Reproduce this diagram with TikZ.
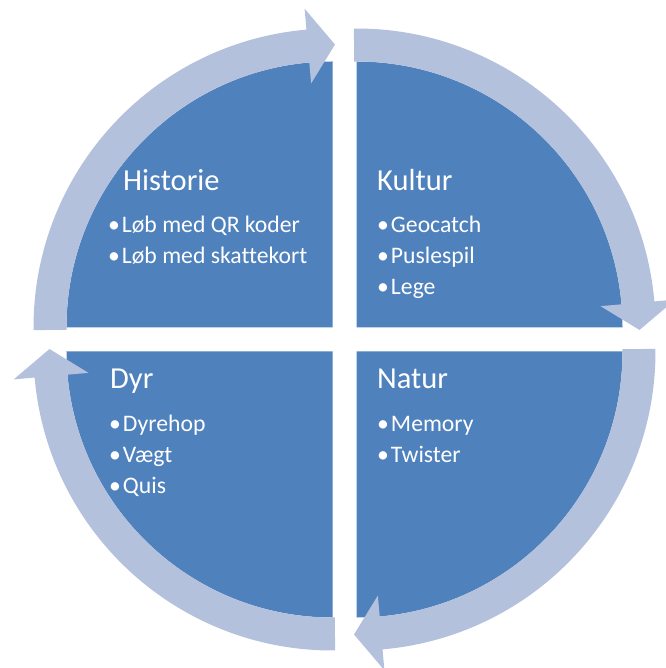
\documentclass[tikz,border=0pt]{standalone}
\usepackage{fontspec}
\setmainfont{Carlito}[Ligatures=NoCommon]
\usetikzlibrary{positioning}
\definecolor{quadblue}{RGB}{79,129,189}
\definecolor{ringblue}{RGB}{179,193,221}
\tikzset{
  sector/.style={fill=quadblue},
  ringarrow/.style={fill=ringblue},
  title/.style={text=white,font=\fontsize{30.5}{36}\selectfont,anchor=base west,inner sep=0pt},
  item/.style={text=white,font=\fontsize{23.7}{28}\selectfont,anchor=base west,inner sep=0pt},
}
\begin{document}
\begin{tikzpicture}[x=1pt,y=1pt]
  \useasboundingbox (-344.5,-328.5) rectangle (320.5,339.5);
  % four quarters
  \foreach \cx/\cy/\a in {-12/12/180,12/12/90,12/-12/0,-12/-12/270}
    \fill[sector] (\cx,\cy) -- ++(\a:266pt) arc[start angle=\a,end angle=\a-90,radius=266pt] -- cycle;
  % arrows round the ring
  \foreach \cx/\cy/\a in {-12/12/180,12/12/90,12/-12/0,-12/-12/270}
    \fill[ringarrow,shift={(\cx,\cy)}] (\a+0.5:299pt) arc[start angle=\a+0.5,end angle=\a-85,radius=299pt]
      -- (\a-85:320pt) -- (\a-90.5:283pt) -- (\a-85:245pt) -- (\a-85:266pt)
      arc[start angle=\a-85,end angle=\a+0.5,radius=266pt] -- cycle;
  % texts
  \node[title] (historie) at (-221.5,148.5) {Historie};
  \foreach \t [count=\i] in {Løb med QR koder,Løb med skattekort}
    \node[item] (hist\i) at (-236.5,137.5-31*\i) {•\kern2pt\t};
  \node[title] (kultur) at (32.5,148.5) {Kultur};
  \foreach \t [count=\i] in {Geocatch,Puslespil,Lege}
    \node[item] (kult\i) at (32.5,137.5-31*\i) {•\kern2pt\t};
  \node[title] (dyr) at (-234.5,-49.5) {Dyr};
  \foreach \t [count=\i] in {Dyrehop,Vægt,Quis}
    \node[item] (dyr\i) at (-235.5,-60.5-31*\i) {•\kern2pt\t};
  \node[title] (natur) at (32.5,-49.5) {Natur};
  \foreach \t [count=\i] in {Memory,Twister}
    \node[item] (nat\i) at (32.5,-60.5-31*\i) {•\kern2pt\t};
\end{tikzpicture}
\end{document}
